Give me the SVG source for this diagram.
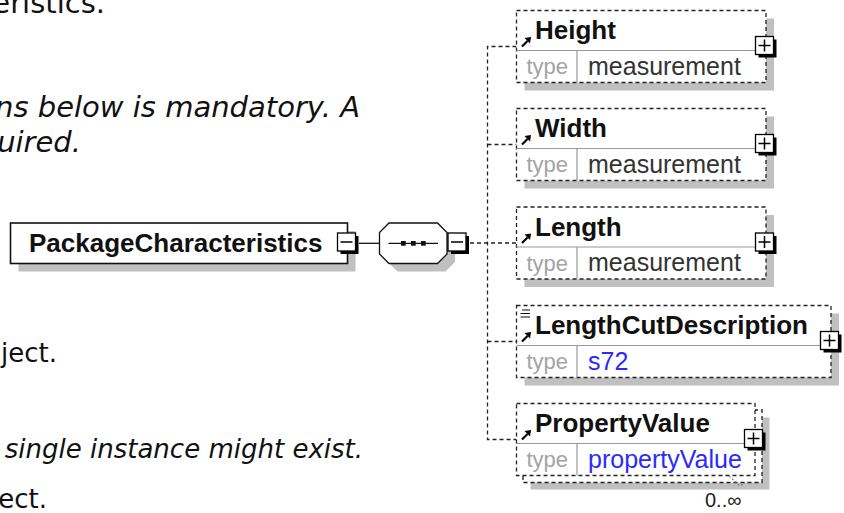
<svg xmlns="http://www.w3.org/2000/svg" width="844" height="513" viewBox="0 0 844 513">
<style>
.desc{font-family:"DejaVu Sans",Verdana,sans-serif;font-size:26px;fill:#111}
.big{font-size:29px}
.it{font-style:italic}
.sh{fill:#c0c0c0}
.box{fill:#fff;stroke:#222;stroke-width:1.3;stroke-dasharray:4 3}
.div{stroke:#999;stroke-width:1.2;fill:none}
.ttl{font-family:"Liberation Sans",Arial,sans-serif;font-weight:bold;font-size:26px;fill:#111}
.tl{font-family:"Liberation Sans",Arial,sans-serif;font-size:22px;fill:#a4a4a4}
.tv{font-family:"Liberation Sans",Arial,sans-serif;font-size:25px;fill:#333}
.blue{fill:#2a2aff}
.conn{fill:none;stroke:#222;stroke-width:1.3;stroke-dasharray:4 3}
.solid{fill:none;stroke:#111;stroke-width:1.3}
.mult{font-family:"Liberation Sans",Arial,sans-serif;font-size:20px;fill:#222}
</style>
<defs>
<g id="plus">
<rect x="-6" y="-6" width="18" height="18" fill="#000"/>
<rect x="-9" y="-9" width="18" height="18" fill="#fff" stroke="#000" stroke-width="1.3"/>
<path d="M-6 0H6M0 -6V6" stroke="#000" stroke-width="1.5"/>
</g>
<g id="minus">
<rect x="-6" y="-6" width="18" height="18" fill="#000"/>
<rect x="-9" y="-9" width="18" height="18" fill="#fff" stroke="#000" stroke-width="1.3"/>
<path d="M-6 0H6" stroke="#000" stroke-width="1.5"/>
</g>
<g id="arr">
<path d="M0.5 0L6 -5.5" stroke="#000" stroke-width="2.2"/>
<path d="M9.5 -9.5L3 -8.5L8.5 -3Z" fill="#000"/>
</g>
</defs>

<g id="description">
<text class="desc big" x="105" y="12.7" text-anchor="end">eristics.</text>
<text class="desc big it" x="360" y="116.7" text-anchor="end">ns below is mandatory. A</text>
<text class="desc big it" x="81" y="151.7" text-anchor="end">uired.</text>
<text class="desc" x="57" y="361.7" text-anchor="end">ject.</text>
<text class="desc it" x="363" y="458.3" text-anchor="end">single instance might exist.</text>
<text class="desc" x="47" y="508.3" text-anchor="end">ect.</text>
</g>

<g id="connectors">
<path class="solid" d="M359 243.3H379.5"/>
<path class="conn" d="M470 243H516.5"/>
<path class="conn" d="M516.5 46.5H487.5V439.5H516.5"/>
<path class="conn" d="M487.5 144.5H516.5"/>
<path class="conn" d="M487.5 341.5H516.5"/>
</g>

<g id="PackageCharacteristics">
<rect class="sh" x="18.5" y="231" width="337" height="40.5"/>
<rect x="10.5" y="223" width="337" height="40.5" fill="#fff" stroke="#111" stroke-width="1.6"/>
<text class="ttl" x="29" y="251.7">PackageCharacteristics</text>
<use href="#minus" x="346.5" y="242"/>
</g>

<g id="sequence">
<polygon class="sh" points="397.5,231 445.5,231 455,240 455,262 445.5,271.5 397.5,271.5 388,262 388,240"/>
<polygon points="389,223 437.5,223 447,232.5 447,254 437.5,263.5 389,263.5 379.5,254 379.5,232.5" fill="#fff" stroke="#111" stroke-width="1.3"/>
<path d="M388.5 243.3H438" stroke="#111" stroke-width="1.3"/>
<rect x="401" y="241" width="4.7" height="4.7" fill="#111"/>
<rect x="411" y="241" width="4.7" height="4.7" fill="#111"/>
<rect x="421" y="241" width="4.7" height="4.7" fill="#111"/>
<use href="#minus" x="457" y="242"/>
</g>

<g id="Height">
<rect class="sh" x="524.5" y="18.5" width="249.5" height="72"/>
<rect class="box" x="516.5" y="10.5" width="249.5" height="72"/>
<path class="div" d="M516.5 50.5H766M577 50.5V82.5"/>
<use href="#arr" x="521.5" y="46.5"/>
<text class="ttl" x="535" y="39.2">Height</text>
<text class="tl" x="526.5" y="74">type</text>
<text class="tv" x="588" y="74.5">measurement</text>
<use href="#plus" x="764.5" y="45.5"/>
</g>

<g id="Width">
<rect class="sh" x="524.5" y="116.5" width="249.5" height="72"/>
<rect class="box" x="516.5" y="108.5" width="249.5" height="72"/>
<path class="div" d="M516.5 148.5H766M577 148.5V180.5"/>
<use href="#arr" x="521.5" y="144.5"/>
<text class="ttl" x="535" y="137.2">Width</text>
<text class="tl" x="526.5" y="172">type</text>
<text class="tv" x="588" y="172.5">measurement</text>
<use href="#plus" x="764.5" y="143.5"/>
</g>

<g id="Length">
<rect class="sh" x="524.5" y="215" width="249.5" height="72"/>
<rect class="box" x="516.5" y="207" width="249.5" height="72"/>
<path class="div" d="M516.5 247H766M577 247V279"/>
<use href="#arr" x="521.5" y="243"/>
<text class="ttl" x="535" y="235.7">Length</text>
<text class="tl" x="526.5" y="270.5">type</text>
<text class="tv" x="588" y="271">measurement</text>
<use href="#plus" x="764.5" y="242"/>
</g>

<g id="LengthCutDescription">
<rect class="sh" x="524.5" y="313.5" width="314.5" height="72"/>
<rect class="box" x="516.5" y="305.5" width="314.5" height="72"/>
<path class="div" d="M516.5 345.5H831M577 345.5V377.5"/>
<path d="M522 310H530M520.5 313.5H530M520.5 317H530" stroke="#111" stroke-width="1.1"/>
<use href="#arr" x="521.5" y="341.5"/>
<text class="ttl" x="535" y="334.2">LengthCutDescription</text>
<text class="tl" x="526.5" y="369">type</text>
<text class="tv blue" x="588" y="369.5">s72</text>
<use href="#plus" x="829.5" y="340.5"/>
</g>

<g id="PropertyValue">
<rect class="sh" x="530.5" y="417.5" width="239" height="72"/>
<rect class="box" x="523" y="410" width="239" height="72.5"/>
<rect class="box" x="516.5" y="403.5" width="238.5" height="72"/>
<path class="div" d="M516.5 443.5H755M577 443.5V475.5"/>
<use href="#arr" x="521.5" y="439.5"/>
<text class="ttl" x="535" y="432.2">PropertyValue</text>
<text class="tl" x="526.5" y="467">type</text>
<text class="tv blue" x="588" y="467.5">propertyValue</text>
<use href="#plus" x="753.5" y="438.5"/>
<polyline points="729,476 740,486 745,482.5" fill="none" stroke="#777" stroke-width="1.1" stroke-dasharray="2 2"/>
<text class="mult" x="705" y="507">0..∞</text>
</g>
</svg>
